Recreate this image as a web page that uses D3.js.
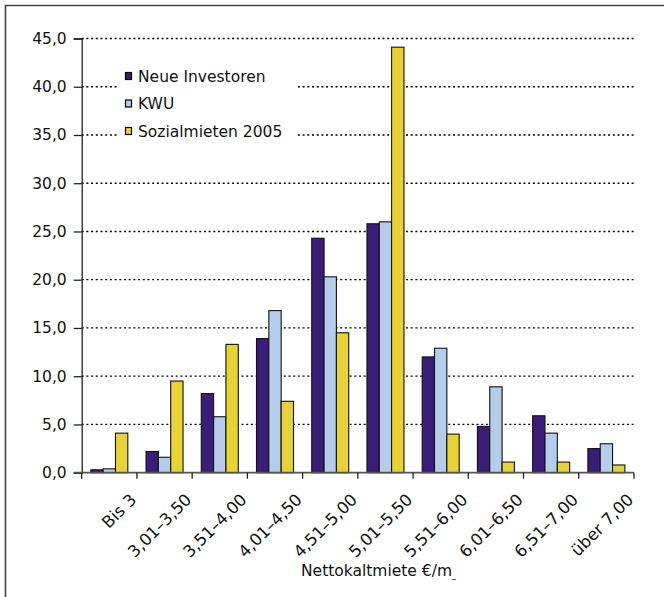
<!DOCTYPE html>
<html>
<head>
<meta charset="utf-8">
<script src="https://cdn.jsdelivr.net/npm/d3@7/dist/d3.min.js"></script>
<style>
  html, body { margin: 0; padding: 0; background: #fff; }
  svg { display: block; font-family: "DejaVu Sans", Verdana, sans-serif; }
</style>
</head>
<body>
<svg id="chart" width="664" height="597"></svg>
<script>
// Rent classes (net cold rent per m²)
const categories = ["Bis 3", "3,01–3,50", "3,51–4,00", "4,01–4,50", "4,51–5,00",
                    "5,01–5,50", "5,51–6,00", "6,01–6,50", "6,51–7,00", "über 7,00"];
const seriesNames = ["Neue Investoren", "KWU", "Sozialmieten 2005"];
const neueInvestoren = [0.3, 2.2, 8.2, 13.9, 24.3, 25.8, 12.0, 4.8, 5.9, 2.5];
const kwu            = [0.4, 1.6, 5.8, 16.8, 20.3, 26.0, 12.9, 8.9, 4.1, 3.0];
const sozialmieten   = [4.1, 9.5, 13.3, 7.4, 14.5, 44.1, 4.0, 1.1, 1.1, 0.8];
const yTicks = [0, 5, 10, 15, 20, 25, 30, 35, 40, 45];
const seriesColors = ["#3b1c78", "#b4cdea", "#e8d234"];
const xTitle = "Nettokaltmiete €/m";

const seriesValues = [neueInvestoren, kwu, sozialmieten];

const svg = d3.select("#chart");
const plotLeft = 81.7, plotRight = 634, plotTop = 38.5, plotBottom = 472.7;

// outer frame
svg.append("path")
  .attr("d", "M5.5,600 L5.5,5.5 L670,5.5")
  .attr("fill", "none").attr("stroke", "#444").attr("stroke-width", 1.6);

const x = d3.scaleBand().domain(categories).range([plotLeft, plotRight]).padding(0);
const x1 = d3.scaleBand().domain(seriesNames)
  .range([x.bandwidth() * 0.165, x.bandwidth() * 0.835]).padding(0);
const y = d3.scaleLinear().domain([0, 45]).range([plotBottom, plotTop]);

// dotted gridlines
svg.append("g").selectAll("line").data(yTicks.filter(d => d > 0)).join("line")
  .attr("x1", plotLeft).attr("x2", plotRight)
  .attr("y1", d => y(d)).attr("y2", d => y(d))
  .attr("stroke", "#000").attr("stroke-width", 1.3)
  .attr("stroke-dasharray", "2,2.7");

// legend (white box sits over the gridlines)
const legend = svg.append("g");
legend.append("rect").attr("x", 117).attr("y", 58).attr("width", 179).attr("height", 90)
  .attr("fill", "#fff");
seriesNames.forEach((name, i) => {
  const cy = 76 + i * 27.5;
  legend.append("rect").attr("x", 125.5).attr("y", cy - 3.5).attr("width", 6).attr("height", 7)
    .attr("fill", seriesColors[i]).attr("stroke", "#000").attr("stroke-width", 1.2);
  legend.append("text").attr("x", 138).attr("y", cy + 5.5)
    .attr("font-size", "15.5px").attr("fill", "#111").text(name);
});

// bars
const groups = svg.append("g").selectAll("g").data(categories).join("g")
  .attr("transform", d => `translate(${x(d)},0)`);
groups.selectAll("rect")
  .data((c, ci) => seriesNames.map((s, si) => ({ s, si, v: seriesValues[si][ci] })))
  .join("rect")
  .attr("x", d => x1(d.s))
  .attr("width", x1.bandwidth())
  .attr("y", d => y(d.v))
  .attr("height", d => y(0) - y(d.v))
  .attr("fill", d => seriesColors[d.si])
  .attr("stroke", "#111").attr("stroke-width", 1.1);

// y axis
const yAxis = d3.axisLeft(y).tickValues(yTicks).tickSize(8).tickPadding(7)
  .tickFormat(d => d3.format(".1f")(d).replace(".", ","));
const gy = svg.append("g").attr("transform", `translate(${plotLeft},0)`).call(yAxis);
gy.select(".domain").attr("stroke", "#222").attr("stroke-width", 1.3);
gy.selectAll(".tick line").attr("stroke", "#222").attr("stroke-width", 1.3);
gy.selectAll(".tick text").attr("font-size", "15.5px").attr("fill", "#111")
  .attr("font-family", "DejaVu Sans, sans-serif");

// x axis: ticks at category boundaries
const gx = svg.append("g");
gx.append("line").attr("x1", plotLeft - 8).attr("x2", plotRight)
  .attr("y1", plotBottom).attr("y2", plotBottom)
  .attr("stroke", "#555").attr("stroke-width", 1.8);
const boundaries = categories.map(c => x(c)).concat([plotRight]);
gx.selectAll("line.tk").data(boundaries).join("line").attr("class", "tk")
  .attr("x1", d => d).attr("x2", d => d)
  .attr("y1", plotBottom).attr("y2", plotBottom + 6)
  .attr("stroke", "#222").attr("stroke-width", 1.3);
gx.selectAll("text").data(categories).join("text")
  .attr("text-anchor", "end")
  .attr("font-size", "16.5px").attr("fill", "#111")
  .attr("transform", d => `translate(${x(d) + x.bandwidth() / 2 + 28},${plotBottom + 28}) rotate(-45)`)
  .text(d => d);

// axis title
const t = svg.append("text").attr("x", 301).attr("y", 576)
  .attr("font-size", "15.5px").attr("fill", "#111").text(xTitle);
t.append("tspan").attr("font-size", "8px").attr("dy", "2").text("_");
</script>
</body>
</html>
